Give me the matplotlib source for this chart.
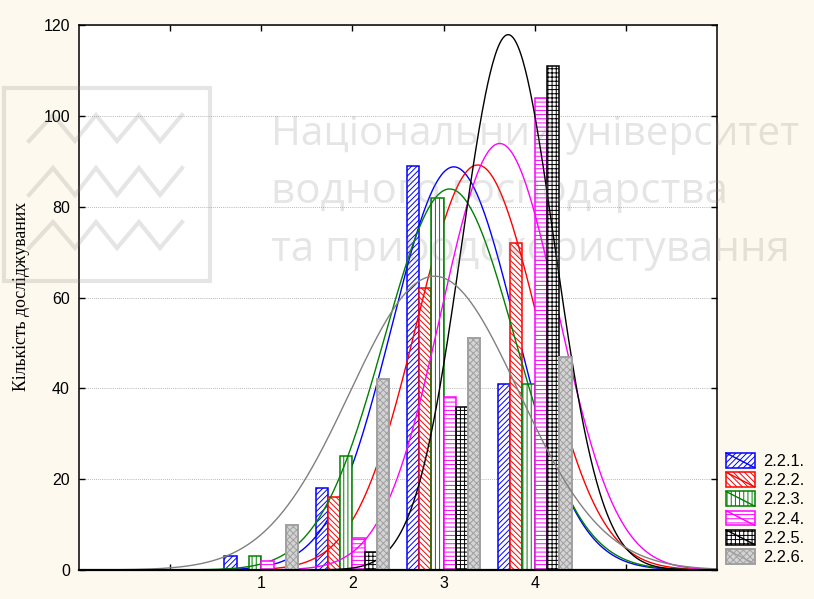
import numpy as np
import matplotlib
matplotlib.use("Agg")
import matplotlib.pyplot as plt
from matplotlib.patches import Rectangle, Patch
from matplotlib.lines import Line2D
from matplotlib.legend_handler import HandlerPatch

# ---- data -------------------------------------------------------------
categories = np.array([1, 2, 3, 4])
series_names = ["2.2.1.", "2.2.2.", "2.2.3.", "2.2.4.", "2.2.5.", "2.2.6."]
s221 = [3, 18, 89, 41]
s222 = [0, 16, 62, 72]
s223 = [3, 25, 82, 41]
s224 = [2, 7, 38, 104]
s225 = [0, 4, 36, 111]
s226 = [10, 42, 51, 47]
series_values = [s221, s222, s223, s224, s225, s226]

x_tick_values = [0, 1, 2, 3, 4, 5]
x_tick_labels = ["", "1", "2", "3", "4", ""]
y_tick_values = [0, 20, 40, 60, 80, 100, 120]
y_label = "Кількість досліджуваних"

# ---- styles -----------------------------------------------------------
styles = [
    dict(edge="#0000ff", face="white", hatch="//////", curve="#0000ff", lw=1.1),
    dict(edge="#ff0000", face="white", hatch="\\\\\\\\\\\\", curve="#ff0000", lw=1.1),
    dict(edge="#008000", face="white", hatch="||||", curve="#008000", lw=1.1),
    dict(edge="#ff00ff", face="white", hatch="----", curve="#ff00ff", lw=1.1),
    dict(edge="#000000", face="white", hatch="++++", curve="#000000", lw=1.1),
    dict(edge="#a0a0a0", face="#d4d4d4", hatch="xxxxx", curve="#808080", lw=1.4),
]

plt.rcParams["hatch.linewidth"] = 0.7
plt.rcParams["font.family"] = ["Liberation Sans", "DejaVu Sans"]

BG = "#fdf9ee"
fig = plt.figure(figsize=(8.14, 5.99), dpi=100, facecolor=BG)
ax = fig.add_axes([79 / 814, 1 - 570 / 599, (717 - 79) / 814, (570 - 25) / 599])
ax.set_facecolor("white")

bar_w = 0.135
xs = np.linspace(-1, 6, 800)

for i, (vals, st) in enumerate(zip(series_values, styles)):
    vals = np.asarray(vals, dtype=float)
    offs = -0.405 + bar_w * (i + 0.5)
    ax.bar(categories + offs, vals, width=bar_w, color=st["face"],
           edgecolor=st["edge"], hatch=st["hatch"], linewidth=st["lw"],
           zorder=3 + 2 * i)
    # fitted normal curve (counts per unit interval)
    n = vals.sum()
    mu = (categories * vals).sum() / n
    var = ((categories - mu) ** 2 * vals).sum() / (n - 1)
    sd = np.sqrt(var)
    ys = n / (sd * np.sqrt(2 * np.pi)) * np.exp(-0.5 * ((xs - mu) / sd) ** 2)
    ax.plot(xs, ys, color=st["curve"], lw=1.0, zorder=4 + 2 * i)

ax.set_xlim(-1, 6)
ax.set_ylim(0, 120)
ax.set_xticks(x_tick_values)
ax.set_xticklabels(x_tick_labels)
ax.set_yticks(y_tick_values)
ax.tick_params(axis="both", direction="in", length=4, width=1.0,
               labelsize=11.5, top=True, right=True, color="black")
ax.tick_params(axis="y", pad=6.5)
ax.tick_params(axis="x", pad=4.5)
ax.yaxis.grid(True, linestyle=(0, (1, 1.5)), color="#a0a0a0", linewidth=0.6)
ax.set_axisbelow(True)
for name, sp in ax.spines.items():
    sp.set_zorder(30)
    sp.set_color("black")
    sp.set_linewidth(1.1)
ax.spines["bottom"].set_linewidth(1.6)

fig.text(22 / 814, 1 - 296 / 599, y_label, rotation=90, ha="center",
         va="center", fontsize=12.8, family=["Liberation Serif", "DejaVu Serif"])


# ---- legend with diagonal-slash swatches -----------------------------
class SlashPatchHandler(HandlerPatch):
    def create_artists(self, legend, orig_handle, xdescent, ydescent,
                       width, height, fontsize, trans):
        x0, y0 = -xdescent, -ydescent
        rect = Rectangle((x0, y0), width, height,
                         facecolor=orig_handle.get_facecolor(),
                         edgecolor=orig_handle.get_edgecolor(),
                         hatch=orig_handle.get_hatch(),
                         linewidth=orig_handle.get_linewidth(),
                         transform=trans)
        slash = Line2D([x0, x0 + width], [y0 + height, y0],
                       color=orig_handle.get_edgecolor(), lw=1.0,
                       transform=trans)
        return [rect, slash]


handles = [Patch(facecolor=st["face"], edgecolor=st["edge"], hatch=st["hatch"],
                 linewidth=st["lw"]) for st in styles]
fig.legend(handles, series_names, loc="upper left",
           bbox_to_anchor=(726 / 814, 1 - 453 / 599),
           frameon=False, fontsize=11.8, handlelength=1.75, handleheight=1.0,
           handletextpad=0.5, labelspacing=0.2, borderpad=0,
           borderaxespad=0, handler_map={Patch: SlashPatchHandler()})

# ---- university watermark ---------------------------------------------
wm = dict(color="#808080", alpha=0.2, family=["Open Sans", "DejaVu Sans"],
          ha="left", va="baseline", zorder=100)
fig.text(271 / 814, 1 - 145 / 599, "Національний університет", fontsize=29.2, **wm)
fig.text(271 / 814, 1 - 203 / 599, "водного господарства", fontsize=30.3, **wm)
fig.text(271 / 814, 1 - 261 / 599, "та природокористування", fontsize=30.3, **wm)

logo_kw = dict(color="#808080", alpha=0.2, lw=3.0, transform=fig.transFigure,
               zorder=100, solid_joinstyle="miter")
bx0, bx1, by0, by1 = 4 / 814, 210 / 814, 1 - 88 / 599, 1 - 281 / 599
fig.add_artist(Line2D([bx0, bx1, bx1, bx0, bx0], [by0, by0, by1, by1, by0], **logo_kw))
zig_x = np.array([29, 53, 75, 96, 117, 139, 160, 182]) / 814
for top, bottom in [(115, 141), (168, 195), (222, 248)]:
    zig_y = [1 - (bottom if k % 2 == 0 else top) / 599 for k in range(len(zig_x))]
    fig.add_artist(Line2D(zig_x, zig_y, **logo_kw))

fig.savefig("out.png", dpi=100, facecolor=BG)
